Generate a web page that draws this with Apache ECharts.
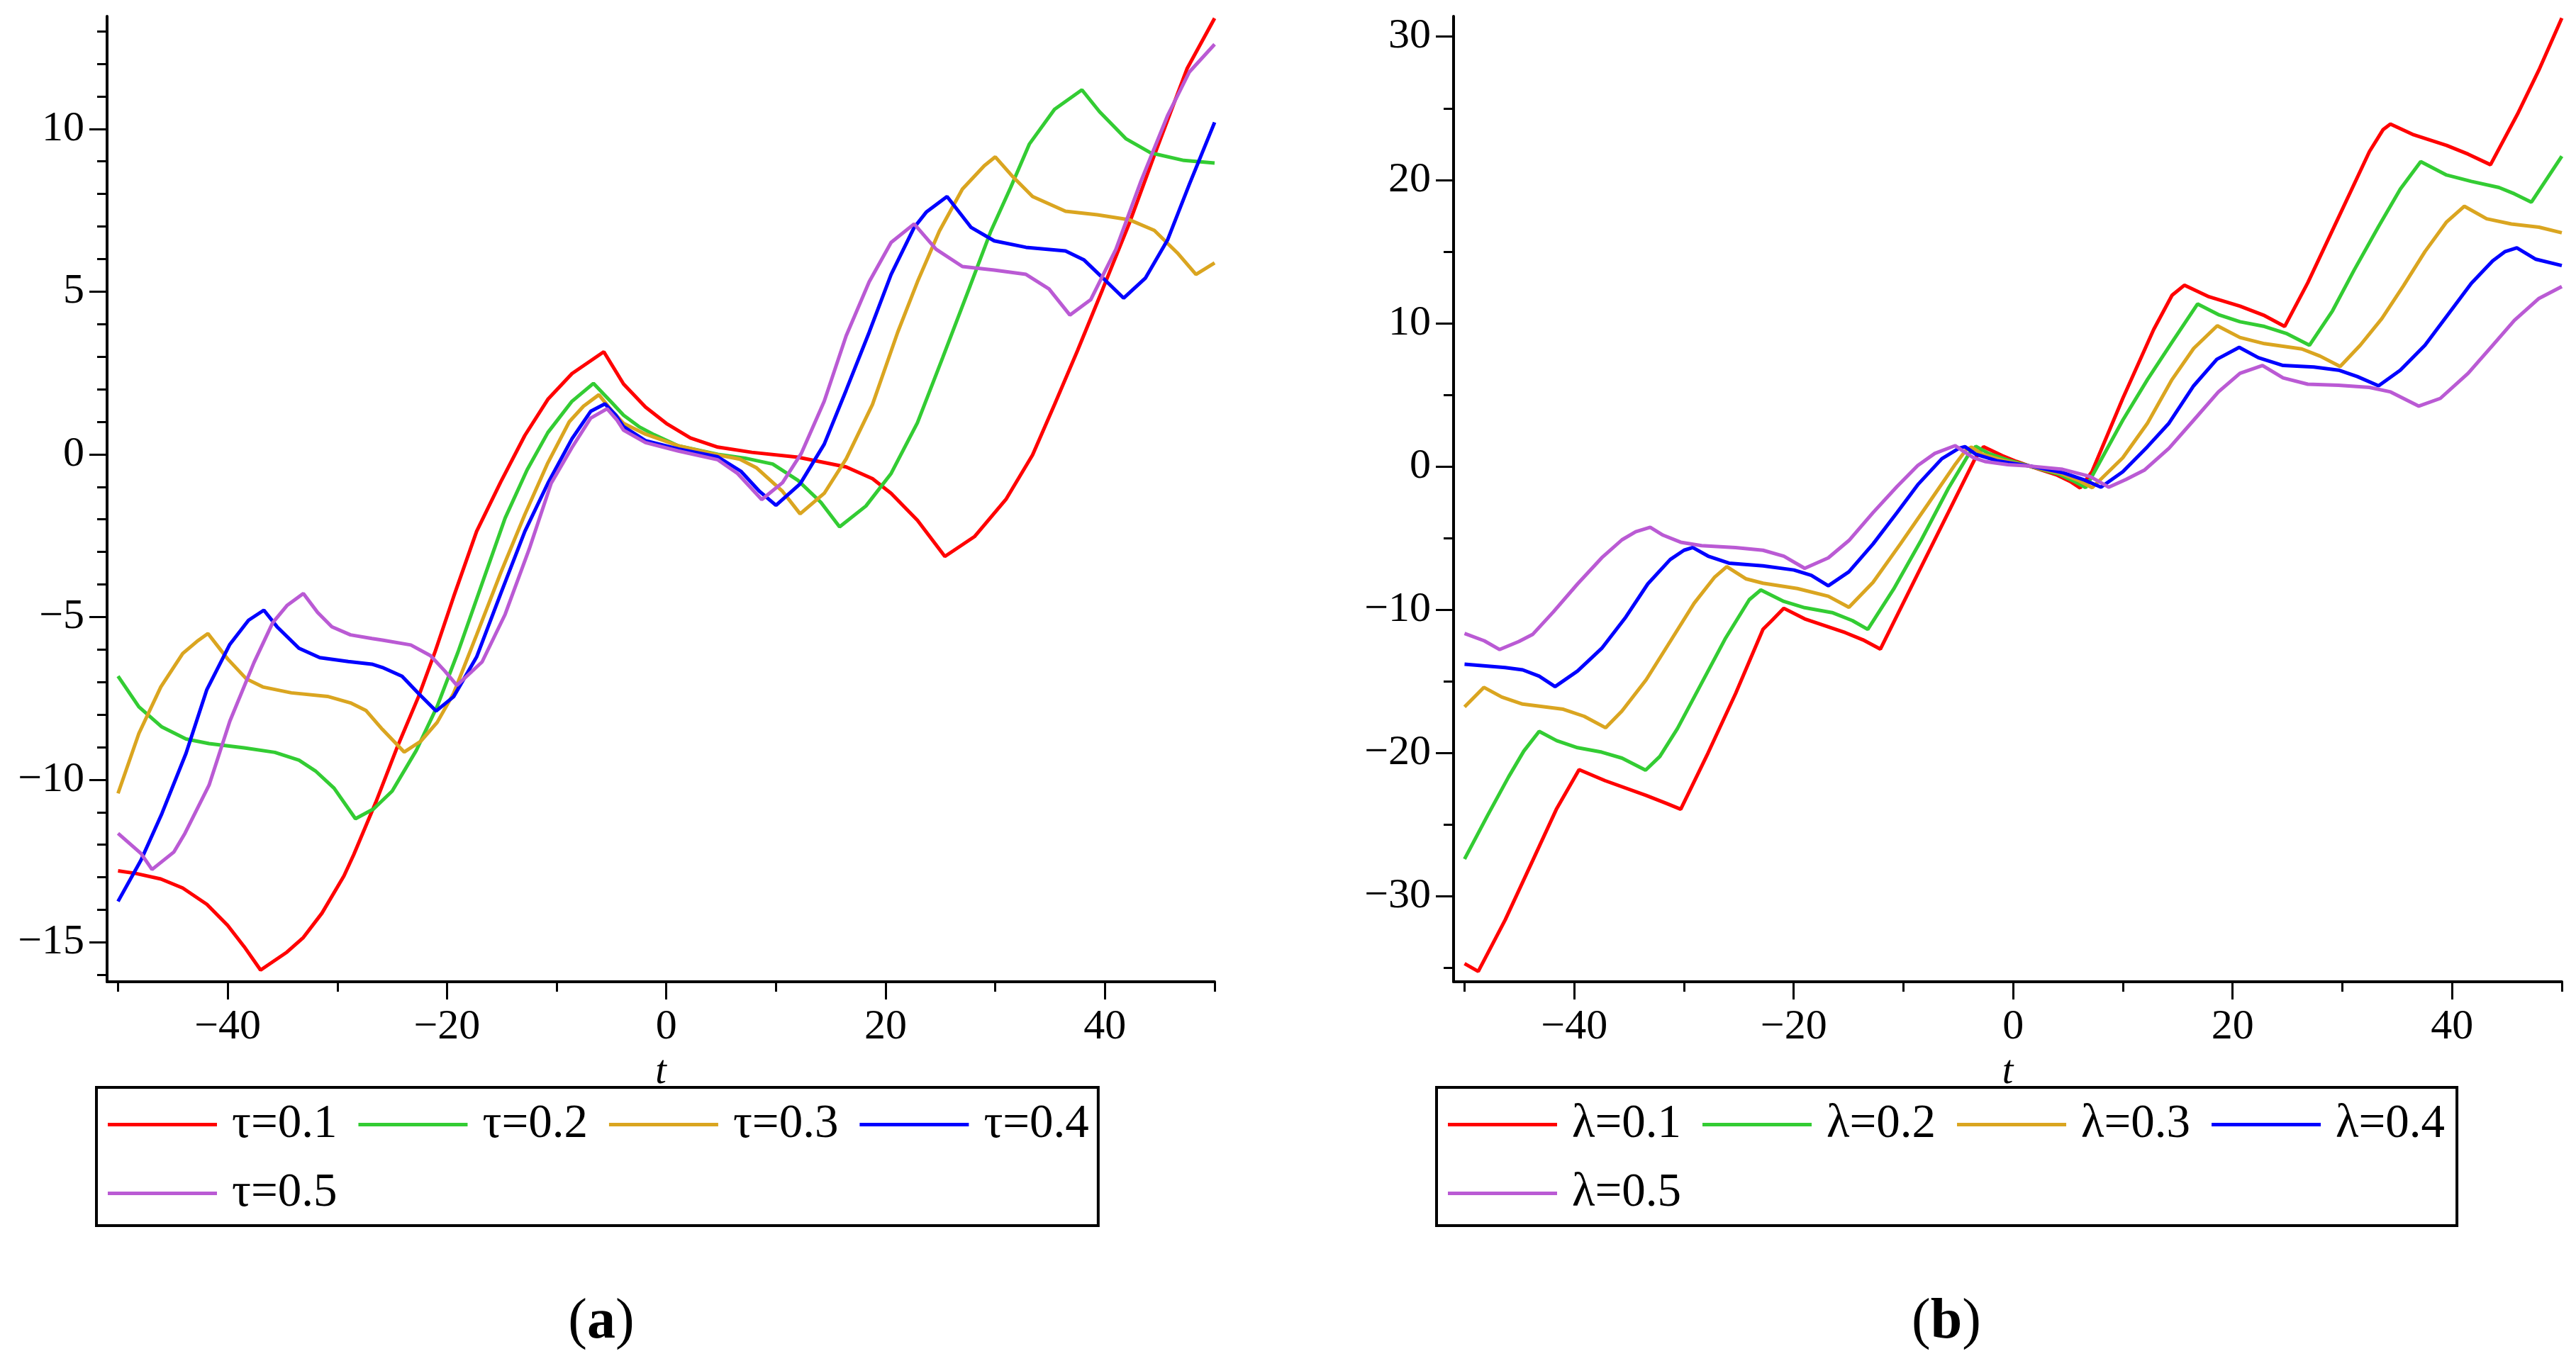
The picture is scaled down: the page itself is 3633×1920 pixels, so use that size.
<!DOCTYPE html>
<html lang="en">

	<head>
		<meta charset="UTF-8">
		<title>τ and λ curves</title>
		<style>
			html, body { margin: 0; padding: 0; background: #fff; }
			#chart { width: 3633px; height: 1920px; }
		</style>
	</head>

	<body>
		<div id="chart"></div>
		<script src="https://cdn.jsdelivr.net/npm/echarts@6.0.0/dist/echarts.min.js"></script>
		<script>
			// values, [t, y]
			var tau01 = [[-50,-12.8],[-48.4,-12.88],[-46.1,-13.05],[-44.1,-13.33],[-41.9,-13.83],[-40,-14.48],[-38.5,-15.13],[-37,-15.85],[-34.6,-15.3],[-33.1,-14.85],[-31.4,-14.1],[-29.4,-12.96],[-28.5,-12.3],[-26.5,-10.7],[-24.6,-9.05],[-22.6,-7.45],[-21.1,-6.08],[-19.4,-4.38],[-17.3,-2.37],[-15.1,-0.85],[-12.9,0.58],[-10.8,1.69],[-8.6,2.48],[-5.7,3.15],[-3.9,2.16],[-1.9,1.45],[0,0.95],[2.2,0.5],[4.7,0.22],[7.8,0.06],[12,-0.09],[16.4,-0.39],[18.8,-0.75],[20.5,-1.2],[22.9,-2.03],[25.4,-3.14],[28.1,-2.53],[31,-1.37],[33.4,-0.02],[35.4,1.53],[37.5,3.19],[39.8,5.08],[42.2,7.08],[44.5,9.19],[47.5,11.86],[50,13.4]];
			var tau02 = [[-50,-6.82],[-48.1,-7.76],[-46,-8.38],[-43.8,-8.75],[-41.7,-8.89],[-38.5,-9.02],[-35.7,-9.16],[-33.5,-9.4],[-32,-9.73],[-30.3,-10.26],[-28.35,-11.2],[-26.7,-10.9],[-25,-10.35],[-22.8,-9.1],[-20.9,-7.75],[-19,-6.08],[-16.8,-3.97],[-14.7,-1.96],[-12.7,-0.48],[-10.8,0.67],[-8.6,1.63],[-6.65,2.18],[-5,1.6],[-3.9,1.2],[-2.5,0.85],[-1.1,0.6],[1.1,0.26],[4.7,0],[7.2,-0.12],[9.7,-0.3],[12,-0.8],[14.1,-1.48],[15.8,-2.23],[18.2,-1.59],[20.5,-0.59],[22.9,0.97],[25.2,2.97],[27.6,5.08],[29.6,6.86],[31.4,8.2],[33.1,9.53],[35.4,10.6],[37.9,11.2],[39.5,10.53],[41.9,9.7],[44.2,9.26],[47.2,9.03],[50,8.95]];
			var tau03 = [[-50,-10.42],[-48.1,-8.58],[-46.1,-7.15],[-44.1,-6.12],[-42.8,-5.75],[-41.8,-5.51],[-40,-6.29],[-38.3,-6.9],[-36.8,-7.15],[-34.2,-7.33],[-30.9,-7.44],[-28.8,-7.64],[-27.4,-7.87],[-25.9,-8.45],[-23.9,-9.15],[-22.4,-8.82],[-20.9,-8.24],[-19.4,-7.35],[-17.3,-5.55],[-15.1,-3.64],[-12.9,-1.85],[-10.8,-0.26],[-8.85,1.0],[-7.55,1.48],[-6.15,1.83],[-5,1.35],[-3.9,0.95],[-1.9,0.62],[1.1,0.26],[4.7,-0.02],[6.7,-0.15],[8.2,-0.41],[10.6,-1.14],[12.2,-1.83],[14.4,-1.2],[16.4,-0.14],[18.8,1.53],[21.1,3.75],[22.9,5.3],[24.9,6.86],[27,8.15],[29,8.87],[30,9.14],[31.6,8.53],[33.4,7.92],[36.4,7.47],[39.3,7.36],[42.2,7.21],[44.5,6.88],[46.6,6.19],[48.3,5.53],[50,5.88]];
			var tau04 = [[-50,-13.74],[-47.9,-12.47],[-46,-11.04],[-43.8,-9.19],[-41.9,-7.23],[-39.8,-5.84],[-38.1,-5.1],[-36.7,-4.79],[-35.5,-5.3],[-33.5,-5.96],[-31.6,-6.25],[-29,-6.37],[-26.85,-6.45],[-25.9,-6.55],[-24.1,-6.82],[-22.6,-7.35],[-21,-7.89],[-19.4,-7.45],[-17.3,-6.23],[-15.1,-4.28],[-12.9,-2.37],[-10.8,-0.89],[-8.6,0.48],[-6.9,1.32],[-5.6,1.55],[-4.6,1.2],[-3.9,0.85],[-1.9,0.42],[1.1,0.16],[4.7,-0.08],[6.8,-0.52],[8.5,-1.14],[10,-1.57],[12.2,-0.91],[14.4,0.31],[16.4,1.97],[18.5,3.75],[20.5,5.53],[22.6,6.97],[23.7,7.44],[25.6,7.92],[27.8,6.97],[29.9,6.56],[32.8,6.36],[36.4,6.25],[38.1,5.97],[39.8,5.42],[41.7,4.8],[43.7,5.42],[45.7,6.58],[47.7,8.3],[50,10.2]];
			var tau05 = [[-50,-11.65],[-47.9,-12.27],[-46.9,-12.76],[-44.9,-12.22],[-43.9,-11.65],[-41.7,-10.17],[-39.8,-8.2],[-37.6,-6.4],[-35.9,-5.18],[-34.6,-4.65],[-33.1,-4.28],[-31.8,-4.86],[-30.5,-5.3],[-28.8,-5.55],[-26.85,-5.66],[-25.9,-5.71],[-23.3,-5.86],[-21.5,-6.19],[-20.2,-6.66],[-19.1,-7.1],[-16.8,-6.38],[-14.7,-4.92],[-12.5,-2.91],[-10.5,-0.89],[-8.6,0.21],[-6.9,1.11],[-5.4,1.4],[-4.5,1.05],[-3.9,0.74],[-1.9,0.36],[1.1,0.1],[4.7,-0.17],[6.5,-0.59],[8.7,-1.39],[10.6,-0.87],[12.3,0.02],[14.4,1.63],[16.4,3.64],[18.5,5.3],[20.5,6.51],[22.6,7.08],[24.6,6.3],[27,5.77],[29.9,5.66],[32.8,5.53],[34.9,5.08],[36.8,4.28],[38.7,4.75],[41,6.3],[43.3,8.41],[45.7,10.4],[47.7,11.75],[50,12.6]];

			var lam01 = [[-50,-34.7],[-48.75,-35.25],[-46.3,-31.66],[-43.8,-27.53],[-41.6,-23.88],[-39.56,-21.16],[-37.2,-21.93],[-33.45,-22.96],[-31.6,-23.52],[-30.3,-23.93],[-27.8,-19.99],[-25.3,-15.86],[-22.8,-11.37],[-22,-10.76],[-20.9,-9.9],[-19,-10.64],[-15.3,-11.6],[-13.7,-12.1],[-12.1,-12.75],[-8.7,-7.5],[-5.9,-3.2],[-3.5,0.5],[-2.7,1.38],[-1,0.75],[0.3,0.35],[1.6,0],[4,-0.6],[5.2,-1.05],[6.1,-1.5],[7.18,-0.37],[9.99,4.75],[12.8,9.55],[14.48,11.95],[15.6,12.65],[17.85,11.84],[20.67,11.19],[22.9,10.53],[24.74,9.77],[26.85,12.82],[29.66,17.4],[32.47,21.98],[33.7,23.5],[34.38,23.9],[36.4,23.18],[39.5,22.41],[41.46,21.8],[43.5,21.06],[45.96,24.59],[47.9,27.65],[50,31.3]];
			var lam02 = [[-50,-27.4],[-47.9,-24.36],[-46,-21.69],[-44.6,-19.87],[-43.2,-18.49],[-41.6,-19.14],[-39.7,-19.63],[-37.5,-19.94],[-35.65,-20.36],[-33.5,-21.2],[-32.2,-20.24],[-30.6,-18.3],[-28.4,-15.13],[-26.2,-11.97],[-24.05,-9.3],[-23,-8.62],[-20.9,-9.42],[-19,-9.86],[-16.5,-10.2],[-14.65,-10.76],[-13.25,-11.37],[-10.9,-8.57],[-8.4,-5.17],[-5.9,-1.52],[-4,0.91],[-3.4,1.4],[-2.2,0.9],[-0.5,0.45],[1.6,0],[4.2,-0.55],[5.6,-1.05],[6.6,-1.48],[7.18,-0.69],[9.99,3.23],[12.24,6.07],[14.48,8.68],[16.8,11.34],[18.7,10.6],[20.67,10.1],[22.9,9.77],[24.88,9.29],[27,8.46],[29.1,10.86],[31.07,13.7],[33.3,16.75],[35.28,19.36],[37.14,21.28],[39.5,20.34],[41.75,19.9],[44.27,19.47],[45.68,19.03],[47.23,18.45],[50,21.65]];
			var lam03 = [[-50,-16.78],[-48.24,-15.42],[-46.6,-16.1],[-44.7,-16.59],[-41,-16.95],[-39.1,-17.44],[-37.15,-18.24],[-35.65,-17.07],[-33.45,-14.89],[-31.26,-12.22],[-29.07,-9.54],[-27.2,-7.72],[-26.1,-6.99],[-24.37,-7.84],[-22.8,-8.15],[-19.67,-8.52],[-16.85,-9.06],[-14.97,-9.83],[-12.77,-8.09],[-10.28,-5.41],[-7.76,-2.62],[-5.25,0.18],[-4.3,1.15],[-3.8,1.35],[-2.8,0.85],[-0.8,0.4],[1.6,0],[4.4,-0.5],[6,-1.0],[7.2,-1.48],[9.99,0.61],[12.24,3.02],[14.48,6.07],[16.45,8.24],[18.6,9.82],[20.67,9.0],[22.9,8.57],[26.3,8.2],[27.97,7.7],[29.8,6.98],[31.63,8.46],[33.6,10.32],[35.56,12.6],[37.53,15.0],[39.5,17.07],[41.12,18.16],[43.15,17.29],[45.4,16.92],[47.92,16.7],[50,16.31]];
			var lam04 = [[-50,-13.8],[-46.3,-14.04],[-44.7,-14.2],[-43.2,-14.64],[-41.75,-15.37],[-39.7,-14.28],[-37.5,-12.7],[-35.3,-10.51],[-33.3,-8.2],[-31.26,-6.5],[-30,-5.85],[-29.2,-5.66],[-27.8,-6.26],[-25.9,-6.75],[-22.8,-6.94],[-19.98,-7.23],[-18.4,-7.6],[-16.85,-8.33],[-14.97,-7.35],[-12.77,-5.41],[-10.58,-3.22],[-8.7,-1.28],[-6.5,0.54],[-4.94,1.27],[-4.4,1.38],[-3.4,0.85],[-1.5,0.4],[1.6,0.02],[4.6,-0.45],[6.5,-0.95],[8,-1.45],[9.99,-0.37],[12.24,1.38],[14.2,3.02],[16.45,5.63],[18.56,7.48],[20.6,8.31],[22.35,7.59],[24.6,7.05],[27.4,6.94],[29.66,6.72],[31.35,6.28],[33.3,5.63],[35.28,6.72],[37.53,8.46],[39.77,10.75],[41.75,12.78],[43.7,14.35],[44.84,15.0],[45.9,15.26],[47.64,14.46],[50,14.02]];
			var lam05 = [[-50,-11.66],[-48.2,-12.17],[-46.8,-12.78],[-45.05,-12.22],[-43.8,-11.73],[-41.9,-10.15],[-39.7,-8.2],[-37.5,-6.38],[-35.65,-5.12],[-34.4,-4.56],[-33.08,-4.25],[-31.9,-4.8],[-30.3,-5.29],[-28.4,-5.53],[-25.3,-5.66],[-22.8,-5.85],[-20.9,-6.26],[-19,-7.11],[-16.85,-6.38],[-14.97,-5.17],[-12.77,-3.22],[-10.58,-1.4],[-8.7,0.06],[-7.14,0.91],[-5.3,1.45],[-4.4,1.0],[-3.6,0.6],[-2.5,0.33],[-0.5,0.12],[1.6,0.02],[4.5,-0.2],[7,-0.7],[8.72,-1.45],[10.3,-0.9],[11.95,-0.26],[14.2,1.27],[16.45,3.23],[18.7,5.2],[20.67,6.5],[22.72,7.05],[24.6,6.18],[26.85,5.74],[29.66,5.67],[32.47,5.52],[34.4,5.2],[36.97,4.21],[38.93,4.75],[41.46,6.5],[43.7,8.46],[45.68,10.2],[47.92,11.73],[50,12.56]];

			// names and colours
			var tauNames = ['τ=0.1', 'τ=0.2', 'τ=0.3', 'τ=0.4', 'τ=0.5'];
			var lamNames = ['λ=0.1', 'λ=0.2', 'λ=0.3', 'λ=0.4', 'λ=0.5'];
			var colors = ['#ff0000', '#33cc33', '#daa520', '#0000ff', '#ba5ad4'];

			// ticks
			var xTicks = [-40, -20, 0, 20, 40];
			var xMinor = [-50, -30, -10, 10, 30, 50];
			var yTicksA = [-15, -10, -5, 0, 5, 10];
			var yMinorA = [-16, -14, -13, -12, -11, -9, -8, -7, -6, -4, -3, -2, -1, 1, 2, 3, 4, 6, 7, 8, 9, 11, 12, 13];
			var yTicksB = [-30, -20, -10, 0, 10, 20, 30];
			var yMinorB = [-35, -25, -15, -5, 5, 15, 25];

			var serif = '"Liberation Serif", "DejaVu Serif", serif';

			function fmt(v) {
				return v < 0 ? '\u2212' + Math.abs(v) : String(v);
			}

			// main axis: line, long ticks, labels
			function mainAxis(grid, min, max, ticks, isX) {
				var ax = {
					type: 'value', gridIndex: grid, min: min, max: max,
					position: isX ? 'bottom' : 'left',
					splitLine: { show: false },
					axisLine: { show: true, onZero: false, lineStyle: { color: '#000', width: 4 } },
					axisTick: { show: true, length: 25, customValues: ticks, lineStyle: { color: '#000', width: 3 } },
					axisLabel: {
						show: true, customValues: ticks, formatter: fmt,
						color: '#000', fontFamily: serif, fontSize: 60, margin: isX ? 34 : 32
					}
				};
				if (isX) {
					ax.name = 't';
					ax.nameLocation = 'middle';
					ax.nameGap = 100;
					ax.nameTextStyle = { color: '#000', fontFamily: serif, fontSize: 56, fontStyle: 'italic' };
				}
				return ax;
			}

			// second axis over the first, only short ticks
			function minorAxis(grid, min, max, ticks, isX) {
				return {
					type: 'value', gridIndex: grid, min: min, max: max,
					position: isX ? 'bottom' : 'left',
					splitLine: { show: false },
					axisLine: { show: false, onZero: false },
					axisTick: { show: true, length: 14, customValues: ticks, lineStyle: { color: '#000', width: 3 } },
					axisLabel: { show: false }
				};
			}

			var seriesList = [];
			[tau01, tau02, tau03, tau04, tau05].forEach(function(d, i) {
				seriesList.push({
					name: tauNames[i], type: 'line', xAxisIndex: 0, yAxisIndex: 0,
					data: d, symbol: 'none', color: colors[i],
					lineStyle: { color: colors[i], width: 5 }
				});
			});
			[lam01, lam02, lam03, lam04, lam05].forEach(function(d, i) {
				seriesList.push({
					name: lamNames[i], type: 'line', xAxisIndex: 2, yAxisIndex: 2,
					data: d, symbol: 'none', color: colors[i],
					lineStyle: { color: colors[i], width: 5 }
				});
			});

			function legendBox(names, left, padRight) {
				return {
					data: names, left: left, top: 1534, width: 1420,
					orient: 'horizontal', selectedMode: false,
					icon: 'rect', itemWidth: 154, itemHeight: 5, itemGap: 30,
					padding: [19, padRight, 12, 16],
					borderColor: '#000', borderWidth: 4,
					textStyle: { color: '#000', fontFamily: serif, fontSize: 67, lineHeight: 60, padding: [0, 0, 0, 16] }
				};
			}

			function caption(letter, x) {
				return {
					type: 'text', x: x, y: 1866,
					style: {
						text: '{p|(}{b|' + letter + '}{p|)}',
						align: 'center', verticalAlign: 'middle',
						rich: {
							p: { fontFamily: serif, fontSize: 80, fill: '#000' },
							b: { fontFamily: serif, fontSize: 80, fontWeight: 'bold', fill: '#000' }
						}
					}
				};
			}

			var chart = echarts.init(document.getElementById('chart'));
			var option = {
				animation: false,
				backgroundColor: '#fff',
				grid: [
					{ left: 151, top: 23, width: 1562, height: 1362 },
					{ left: 2050, top: 23, width: 1563, height: 1362 }
				],
				xAxis: [
					mainAxis(0, -51, 50, xTicks, true),
					minorAxis(0, -51, 50, xMinor, true),
					mainAxis(1, -51, 50, xTicks, true),
					minorAxis(1, -51, 50, xMinor, true)
				],
				yAxis: [
					mainAxis(0, -16.21, 13.46, yTicksA, false),
					minorAxis(0, -16.21, 13.46, yMinorA, false),
					mainAxis(1, -35.97, 31.42, yTicksB, false),
					minorAxis(1, -35.97, 31.42, yMinorB, false)
				],
				legend: [legendBox(tauNames, 136, 13), legendBox(lamNames, 2026, 17)],
				graphic: [caption('a', 848), caption('b', 2745)],
				series: seriesList
			};
			chart.setOption(option);
		</script>
	</body>

</html>
